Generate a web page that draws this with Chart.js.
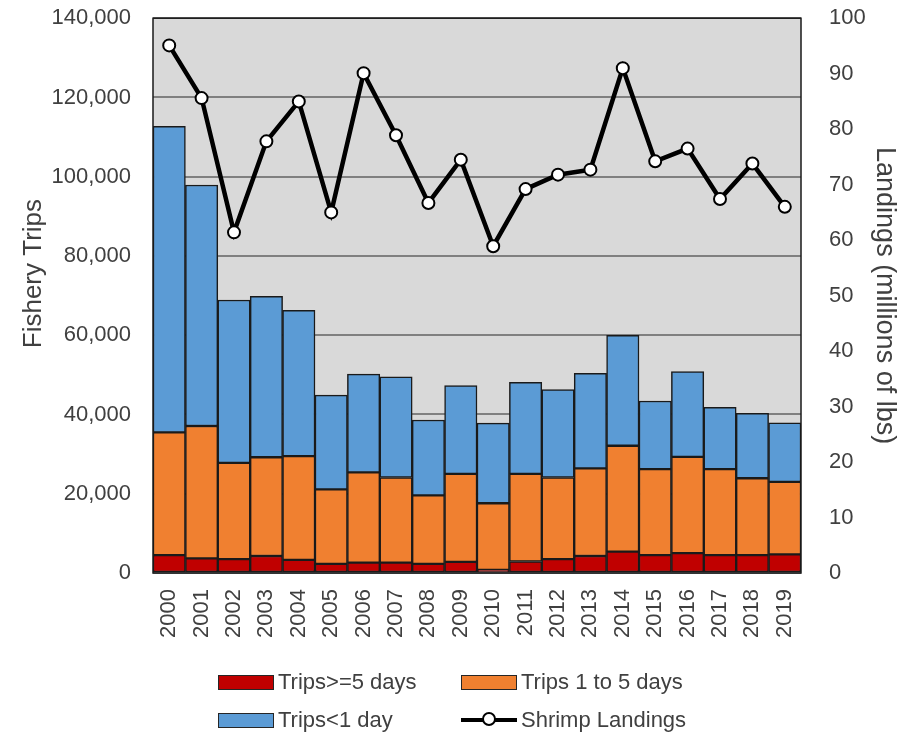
<!DOCTYPE html>
<html>
<head>
<meta charset="utf-8">
<script src="https://cdn.jsdelivr.net/npm/chart.js@4"></script>
<style>
	body { margin: 0; background: #fff; }
	#wrap { position: relative; width: 901px; height: 742px; overflow: hidden; }
	#canvasshrimp { position: absolute; left: 0; top: -17px; }
	.leg { position: absolute; font-family: "Liberation Sans", Arial, sans-serif; font-size: 22px; color: #404040; display: flex; align-items: center; }
	.sw { width: 54px; height: 13px; border: 1px solid #262626; margin-right: 4px; }
	.ln { position: relative; width: 56px; height: 4px; background: #000; margin-right: 4px; }
	.ln span { position: absolute; left: 21px; top: -6px; width: 10px; height: 10px; border-radius: 50%; background: #fff; border: 2px solid #000; box-sizing: content-box; }
</style>
</head>
<body>
<div id="wrap">
	<canvas id="canvasshrimp" width="901" height="759"></canvas>
</div>
<script>

var years = ["2000","2001","2002","2003","2004","2005","2006","2007","2008","2009",
	"2010","2011","2012","2013","2014","2015","2016","2017","2018","2019"];

// trips, stacked
var tripsLong = [4500, 3700, 3500, 4300, 3300, 2300, 2600, 2600, 2300, 2800,
	800, 2900, 3500, 4300, 5400, 4500, 5000, 4500, 4500, 4700];
var tripsMid = [31000, 33400, 24300, 24900, 26200, 18800, 22800, 21500, 17300, 22200,
	16800, 22100, 20600, 22100, 26700, 21700, 24300, 21700, 19400, 18300];
var tripsShort = [77200, 60800, 41100, 40600, 36800, 23800, 24800, 25400, 19000, 22300,
	20200, 23100, 22200, 24000, 27900, 17200, 21500, 15600, 16400, 14900];

// millions of lbs
var landings = [95.1, 85.6, 61.4, 77.8, 85.0, 65.0, 90.1, 78.9, 66.7, 74.5,
	58.9, 69.2, 71.8, 72.7, 91.0, 74.2, 76.5, 67.4, 73.8, 66.0];

var seriesNames = ["Trips>=5 days", "Trips 1 to 5 days", "Trips<1 day", "Shrimp Landings"];
var seriesColors = ["#C00000", "#F08030", "#5B9BD5", "#000000"];
var leftTitle = "Fishery Trips";
var rightTitle = "Landings (millions of lbs)";

var fontFamily = "'Liberation Sans', Arial, sans-serif";
var tickFont = { family: fontFamily, size: 22 };
var titleFont = { family: fontFamily, size: 27 };
var textColor = "#404040";

// grey plot area, black frame, left title sits a bit above centre
var plotFrame = {
	id: 'plotFrame',
	beforeDraw: function(chart){
		var a = chart.chartArea, ctx = chart.ctx;
		ctx.save();
		ctx.fillStyle = "#D9D9D9";
		ctx.fillRect(a.left, a.top, a.right - a.left, a.bottom - a.top);
		ctx.restore();
	},
	afterDatasetsDraw: function(chart){
		var a = chart.chartArea, ctx = chart.ctx;
		ctx.save();
		ctx.strokeStyle = "#1a1a1a";
		ctx.lineWidth = 1.5;
		ctx.strokeRect(a.left, a.top, a.right - a.left, a.bottom - a.top);
		ctx.translate(34, (a.top + a.bottom) / 2 - 22);
		ctx.rotate(-Math.PI / 2);
		ctx.fillStyle = textColor;
		ctx.font = "26px " + fontFamily;
		ctx.textAlign = "center";
		ctx.textBaseline = "middle";
		ctx.fillText(leftTitle, 0, 0);
		ctx.restore();
	}
};

function barSet(i, values){
	return {
		type: 'bar',
		label: seriesNames[i],
		data: values,
		backgroundColor: seriesColors[i],
		borderColor: "#1a1a1a",
		borderWidth: 1.5,
		borderSkipped: false,
		yAxisID: 'y',
		stack: 'trips',
		order: 2
	};
}

function init_chart_shrimp(){

	if( typeof (Chart) === 'undefined'){ return; }

	var settings = {
		data: {
			labels: years,
			datasets: [
				barSet(0, tripsLong),
				barSet(1, tripsMid),
				barSet(2, tripsShort),
				{
					type: 'line',
					label: seriesNames[3],
					data: landings,
					borderColor: "#000",
					borderWidth: 4.5,
					tension: 0,
					pointRadius: 6,
					pointBackgroundColor: "#fff",
					pointBorderColor: "#000",
					pointBorderWidth: 2,
					yAxisID: 'y1',
					order: 0
				}
			]
		},
		options: {
			responsive: false,
			animation: false,
			layout: { padding: { top: 1, left: 0, right: 0, bottom: 0 } },
			datasets: { bar: { categoryPercentage: 1.0, barPercentage: 1.0 } },
			plugins: { legend: { display: false }, tooltip: { enabled: false } },
			scales: {
				x: {
					stacked: true,
					grid: { display: false },
					border: { display: false },
					ticks: { font: tickFont, color: textColor, minRotation: 90, maxRotation: 90, padding: 8, autoSkip: false },
					afterFit: function(s){ s.height = 169; }
				},
				y: {
					stacked: true,
					position: 'left',
					min: 0, max: 140000,
					ticks: { stepSize: 20000, font: tickFont, color: textColor, padding: 22 },
					grid: { color: "#808080", lineWidth: 2, drawTicks: false },
					border: { display: false },
					afterFit: function(s){ s.width = 153; }
				},
				y1: {
					position: 'right',
					min: 0, max: 100,
					ticks: { stepSize: 10, font: tickFont, color: textColor, padding: 20 },
					grid: { display: false },
					border: { display: false },
					title: { display: true, text: rightTitle, font: titleFont, color: textColor, padding: { top: 0, bottom: 0 } },
					afterFit: function(s){ s.width = 100; }
				}
			}
		},
		plugins: [plotFrame]
	};

	var chart_element = document.getElementById('canvasshrimp');
	new Chart(chart_element, settings);

	// legend, two rows of two
	var spots = [[218, 669], [461, 669], [218, 707], [461, 707]];
	var wrap = document.getElementById('wrap');
	for (var i = 0; i < seriesNames.length; i++){
		var item = document.createElement('div');
		item.className = 'leg';
		item.style.left = spots[i][0] + 'px';
		item.style.top = spots[i][1] + 'px';
		var mark = document.createElement('div');
		if (i < 3){
			mark.className = 'sw';
			mark.style.background = seriesColors[i];
		} else {
			mark.className = 'ln';
			mark.appendChild(document.createElement('span'));
		}
		item.appendChild(mark);
		item.appendChild(document.createTextNode(seriesNames[i]));
		wrap.appendChild(item);
	}
}

init_chart_shrimp();
</script>
</body>
</html>
